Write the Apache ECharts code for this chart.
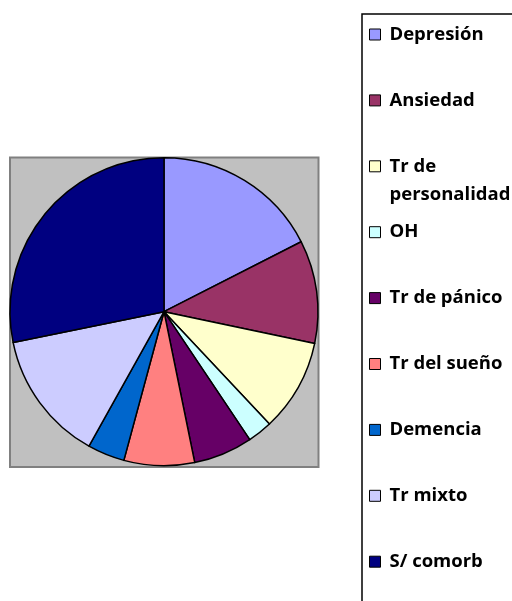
<!DOCTYPE html>
<html>
<head>
<meta charset="utf-8">
<script src="https://cdn.jsdelivr.net/npm/echarts@6/dist/echarts.min.js"></script>
<style>html,body{margin:0;padding:0;background:#fff}#c{width:512px;height:601px}</style>
</head>
<body>
<div id="c"></div>
<script>
const categories = ['Depresión', 'Ansiedad', 'Tr de personalidad', 'OH', 'Tr de pánico', 'Tr del sueño', 'Demencia', 'Tr mixto', 'S/ comorb'];
const values = [17.5, 10.8, 9.7, 2.6, 6.2, 7.4, 3.9, 13.7, 28.2];
const colors = ['#9999FF', '#993366', '#FFFFCC', '#CCFFFF', '#660066', '#FF8080', '#0066CC', '#CCCCFF', '#000080'];

const LINE_H = 28;
const legends = categories.map(function (name, i) {
  const wrapped = name === 'Tr de personalidad';
  const centerY = 34.5 + i * 65.9;
  return {
    orient: 'vertical',
    left: 369,
    top: wrapped ? centerY - 1.5 * LINE_H : centerY - LINE_H / 2,
    padding: 0,
    itemWidth: 11,
    itemHeight: 11,
    icon: 'rect',
    selectedMode: false,
    data: [name],
    itemStyle: {borderColor: '#000', borderWidth: 1},
    formatter: function (n) { return n === 'Tr de personalidad' ? '\nTr de\npersonalidad' : n; },
    textStyle: {
      fontFamily: 'Open Sans', fontWeight: 'bold', fontSize: 18.5, color: '#000',
      lineHeight: LINE_H, padding: [0, 0, 0, 4]
    }
  };
});

const chart = echarts.init(document.getElementById('c'), null, {renderer: 'canvas'});
chart.setOption({
  animation: false,
  backgroundColor: '#ffffff',
  color: colors,
  graphic: [
    {type: 'rect', z: 0, shape: {x: 10, y: 157.5, width: 308.5, height: 309.5},
     style: {fill: '#C0C0C0', stroke: '#808080', lineWidth: 2}},
    {type: 'rect', z: 0, shape: {x: 362, y: 14, width: 200, height: 700},
     style: {fill: '#ffffff', stroke: '#000000', lineWidth: 1.5}}
  ],
  legend: legends,
  series: [{
    type: 'pie',
    z: 2,
    center: [164, 311.7],
    radius: [0, 154],
    startAngle: 90,
    clockwise: true,
    label: {show: false},
    labelLine: {show: false},
    emphasis: {disabled: true},
    itemStyle: {borderColor: '#000', borderWidth: 1.5},
    data: categories.map((n, i) => ({name: n, value: values[i]}))
  }]
});
</script>
</body>
</html>
